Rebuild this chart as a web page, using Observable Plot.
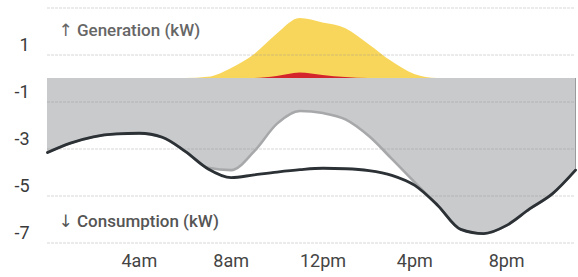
<!DOCTYPE html>
<html>
<head>
<meta charset="utf-8">
<script src="https://cdn.jsdelivr.net/npm/d3@7"></script>
<script src="https://cdn.jsdelivr.net/npm/@observablehq/plot@0.6"></script>
<style>
  html, body { margin: 0; padding: 0; background: #fff; }
  svg { display: block; }
</style>
</head>
<body>
<div id="chart"></div>
<script>
const hours = [0,1,2,3,4,5,6,7,8,9,10,11,12,13,14,15,16,17,18,19,20,21,22,23];
const consumption = [-3.15,-2.75,-2.48,-2.36,-2.33,-2.5,-3.1,-3.85,-4.22,-4.1,-3.98,-3.88,-3.82,-3.84,-3.92,-4.12,-4.55,-5.4,-6.42,-6.6,-6.25,-5.55,-4.9,-3.9];
const netConsumption = [-3.15,-2.75,-2.48,-2.36,-2.33,-2.5,-3.1,-3.8,-3.9,-3.1,-1.92,-1.38,-1.47,-1.75,-2.45,-3.42,-4.42,-5.4,-6.42,-6.6,-6.25,-5.55,-4.9,-3.9];
const generation = [0,0,0,0,0,0,0,0.05,0.42,1.0,1.88,2.55,2.36,2.12,1.45,0.72,0.17,0,0,0,0,0,0,0];
const exported = [0,0,0,0,0,0,0,0,0,0,0.08,0.23,0.13,0.04,0,0,0,0,0,0,0,0,0,0];
const yTicks = [1,-1,-3,-5,-7];
const yGrid = [3,1,-1,-3,-5,-7];
const xTicks = [4,8,12,16,20];
const xTickLabels = ["4am","8am","12pm","4pm","8pm"];

const data = hours.map((h, i) => ({
  h, cons: consumption[i], net: netConsumption[i], gen: generation[i], red: exported[i]
}));
const last = [data[data.length - 1]];

const font = "Roboto, 'DejaVu Sans', sans-serif";

const chart = Plot.plot({
  width: 578,
  height: 277,
  marginLeft: 47,
  marginRight: 3,
  marginTop: 7.5,
  marginBottom: 34.5,
  style: { fontFamily: font, background: "#fff" },
  x: { domain: [0, 23], axis: null },
  y: { domain: [-7, 3], axis: null },
  marks: [
    Plot.areaY(data, { x: "h", y: "net", fill: "#c9cacc", curve: "monotone-x" }),
    Plot.ruleX(last, { x: "h", y1: 0, y2: "net", stroke: "#9a9b9d", strokeWidth: 1 }),
    Plot.areaY(data, { x: "h", y: "gen", fill: "#f8d65c", curve: "monotone-x" }),
    Plot.areaY(data, { x: "h", y: "red", fill: "#d3252b", curve: "monotone-x" }),
    Plot.gridY(yGrid, { stroke: "#8c8c8c", strokeOpacity: 0.35, strokeWidth: 1, strokeDasharray: "3,1" }),
    Plot.line(data, { x: "h", y: "net", stroke: "#a7a8aa", strokeWidth: 2.6, curve: "monotone-x" }),
    Plot.line(data, { x: "h", y: "cons", stroke: "#2c3136", strokeWidth: 2.8, curve: "monotone-x" }),
    Plot.axisY(yTicks, {
      tickSize: 0, tickPadding: 18, dy: -9.5, fontSize: 18, label: null,
      tickFormat: d => String(d), fill: "#3a3a3a", fontFamily: font
    }),
    Plot.axisX(xTicks, {
      tickSize: 0, tickPadding: 11, fontSize: 18, label: null,
      tickFormat: d => xTickLabels[xTicks.indexOf(d)], fill: "#444", fontFamily: font
    }),
    Plot.text(["↑ Generation (kW)"], {
      frameAnchor: "top-left", dx: 11, dy: 22.5, textAnchor: "start", lineAnchor: "middle",
      fontSize: 17, fontWeight: 500, fill: "#666", fontFamily: font
    }),
    Plot.text(["↓ Consumption (kW)"], {
      frameAnchor: "bottom-left", dx: 11, dy: -21.5, textAnchor: "start", lineAnchor: "middle",
      fontSize: 17, fontWeight: 500, fill: "#555", fontFamily: font
    })
  ]
});
document.getElementById("chart").appendChild(chart);
</script>
</body>
</html>
